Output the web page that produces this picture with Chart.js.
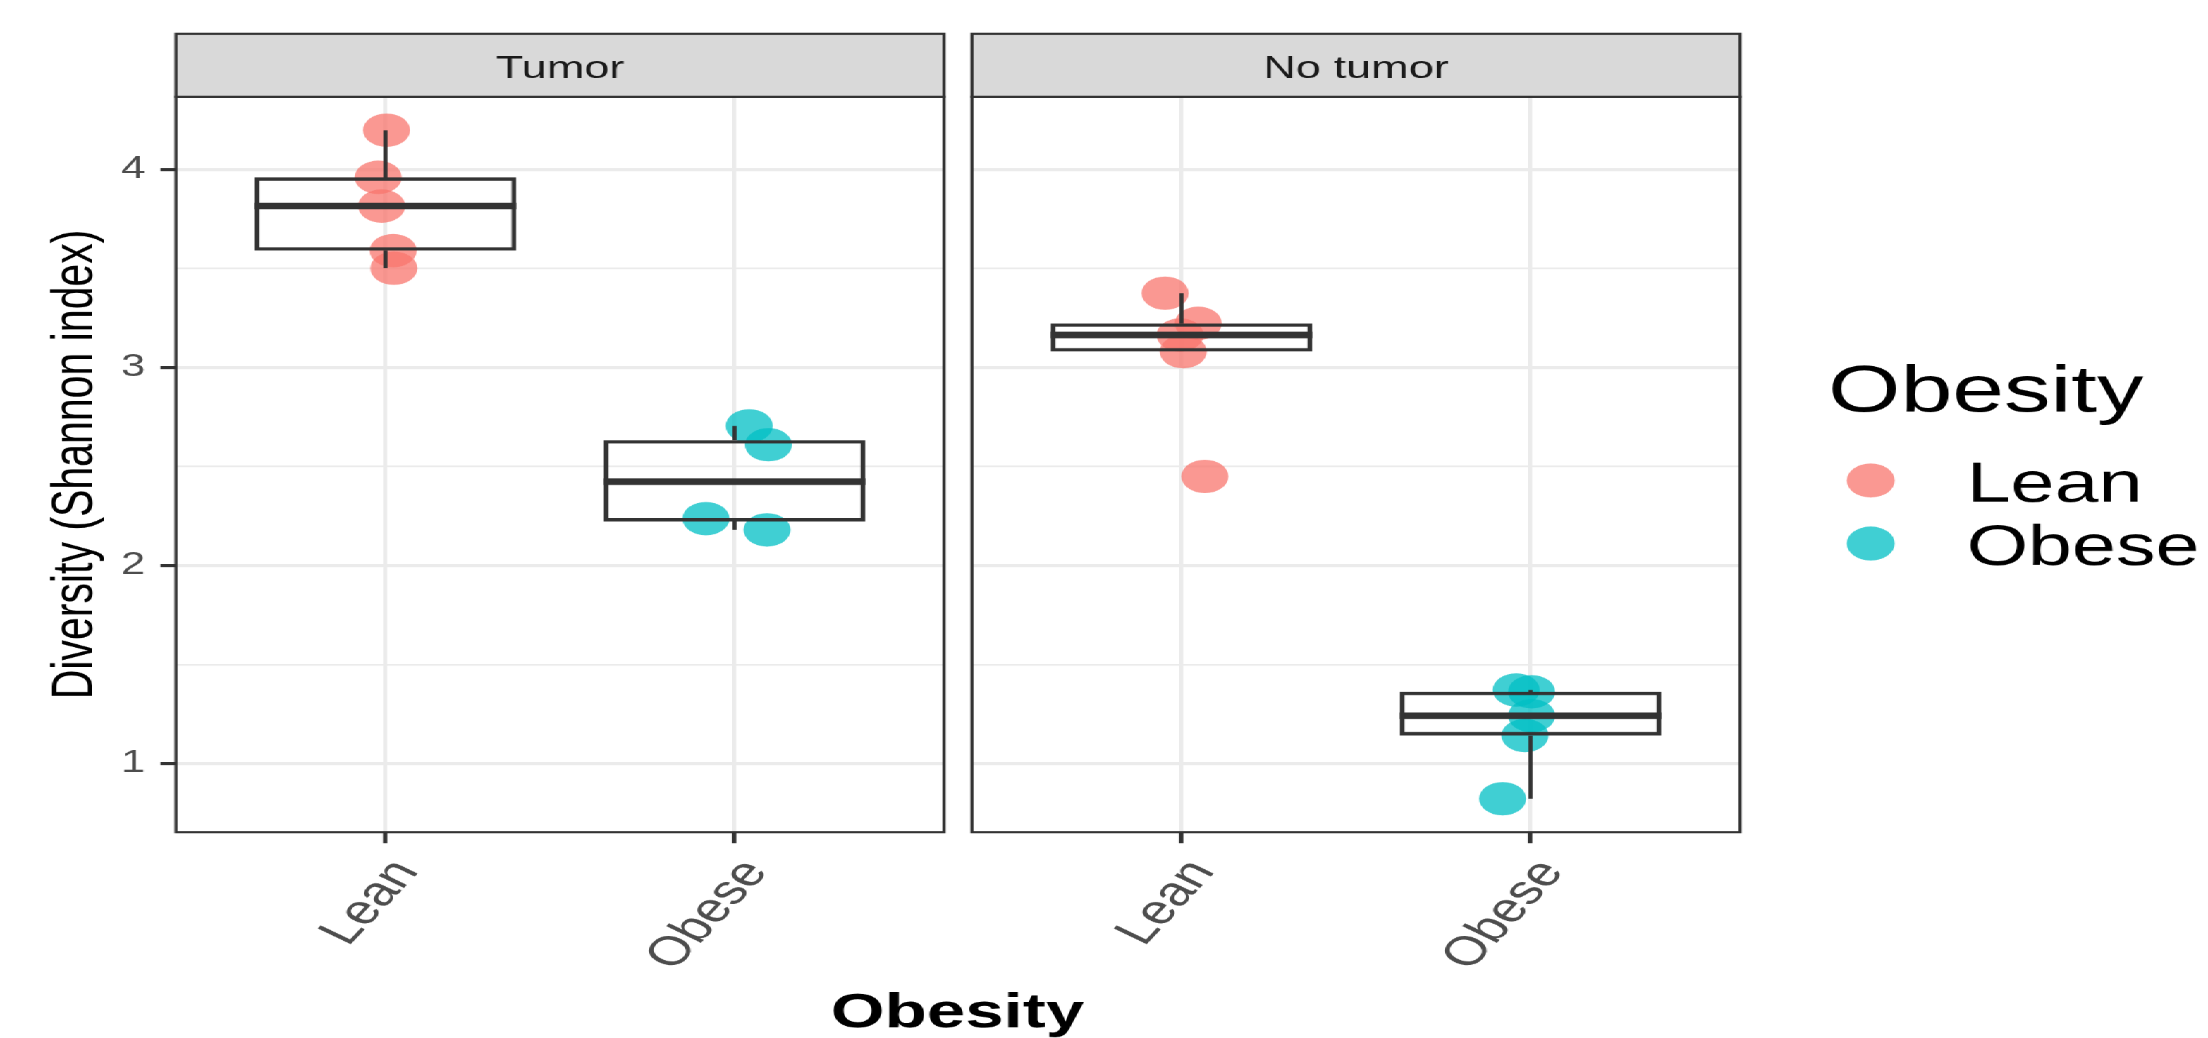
<!DOCTYPE html>
<html><head><meta charset="utf-8">
<script src="https://cdn.jsdelivr.net/npm/chart.js@4.4.1/dist/chart.umd.min.js"></script>
<style>
html,body{margin:0;padding:0;background:#fff;overflow:hidden;width:2208px;height:1038px;}
#stage{position:absolute;left:0;top:0;width:1566px;height:1038px;transform-origin:0 0;}
#stage canvas{position:absolute;left:0;top:0;}
</style></head><body>
<div id="stage"><canvas id="cA" width="1566" height="1038"></canvas><canvas id="cB" width="1566" height="1038"></canvas></div>
<script>
// ---------------- data ----------------
const facets = ['Tumor', 'No tumor'];
const categories = ['Lean', 'Obese'];
const yTickValues = [1, 1.5, 2, 2.5, 3, 3.5, 4];
const yTickLabels = ['1', '', '2', '', '3', '', '4'];
const xTitle = 'Obesity';
const yTitle = 'Diversity (Shannon index)';
const legendTitle = 'Obesity';

const tumorLean = [4.198, 3.960, 3.815, 3.590, 3.501];
const tumorLeanJitter = [0.003, -0.021, -0.011, 0.022, 0.024];
const tumorObese = [2.705, 2.610, 2.237, 2.180];
const tumorObeseJitter = [0.042, 0.097, -0.082, 0.093];
const noTumorLean = [3.375, 3.223, 3.164, 3.080, 2.450];
const noTumorLeanJitter = [-0.047, 0.048, -0.004, 0.005, 0.067];
const noTumorObese = [1.372, 1.363, 1.242, 1.142, 0.823];
const noTumorObeseJitter = [-0.041, 0.003, 0.003, -0.016, -0.080];

// ---------------- styles / layout ----------------
const FONT = "'Liberation Sans', Arial, Helvetica, sans-serif";
const COLORS = ['rgba(248,118,109,0.75)', 'rgba(0,191,196,0.75)'];
const DARK = '#333333';
const GRID = '#EBEBEB';
const BOX_WIDTH = 0.75;
const W0 = 1566, H0 = 1038;
const S = 2208 / W0;            // horizontal stretch of the reference image
document.getElementById('stage').style.transform = 'scaleX(' + S + ')';
Chart.defaults.font.family = FONT;

const PANEL_TOP = 96.7, PANEL_BOTTOM = 831.8, STRIP_TOP = 33.7;

function q7(s, p) { const h = (s.length - 1) * p, lo = Math.floor(h), hi = Math.ceil(h); return s[lo] + (h - lo) * (s[hi] - s[lo]); }
function boxStats(vals) {
  const s = [...vals].sort((a, b) => a - b);
  const q1 = q7(s, 0.25), med = q7(s, 0.5), q3 = q7(s, 0.75), iqr = q3 - q1;
  const lo = s.find(v => v >= q1 - 1.5 * iqr);
  const hi = [...s].reverse().find(v => v <= q3 + 1.5 * iqr);
  return { q1, med, q3, lo, hi };
}
const allVals = [...tumorLean, ...tumorObese, ...noTumorLean, ...noTumorObese];
const dMin = Math.min(...allVals), dMax = Math.max(...allVals), rng = dMax - dMin;
const yMin = dMin - 0.05 * rng, yMax = dMax + 0.05 * rng;

function panelPlugin(label) {
  return {
    id: 'panel',
    afterDraw(chart) {
      const { ctx, chartArea: a } = chart;
      ctx.save();
      ctx.strokeStyle = DARK; ctx.lineWidth = 2.2;
      ctx.strokeRect(a.left, a.top, a.right - a.left, a.bottom - a.top);
      ctx.fillStyle = '#D9D9D9';
      ctx.fillRect(a.left, STRIP_TOP, a.right - a.left, a.top - STRIP_TOP);
      ctx.strokeRect(a.left, STRIP_TOP, a.right - a.left, a.top - STRIP_TOP);
      ctx.fillStyle = '#1A1A1A';
      ctx.font = '32px ' + FONT;
      ctx.textAlign = 'center'; ctx.textBaseline = 'alphabetic';
      ctx.fillText(label, (a.left + a.right) / 2, 78.3);
      ctx.restore();
    }
  };
}

const legendPlugin = {
  id: 'legendAndTitle',
  afterDraw(chart) {
    const ctx = chart.ctx;
    ctx.save();
    ctx.fillStyle = '#000';
    ctx.textAlign = 'left'; ctx.textBaseline = 'alphabetic';
    ctx.font = '66px ' + FONT;
    ctx.fillText(legendTitle, 1828 / S, 411.7);
    ctx.font = '56px ' + FONT;
    const rowY = [480.3, 543.3];
    categories.forEach((c, i) => {
      ctx.fillStyle = COLORS[i];
      ctx.beginPath(); ctx.arc(1870.7 / S, rowY[i], 17, 0, Math.PI * 2); ctx.fill();
      ctx.fillStyle = '#000';
      ctx.fillText(c, 1966.7 / S, rowY[i] + 21.4);
    });
    ctx.font = 'bold 49px ' + FONT;
    ctx.textAlign = 'center';
    ctx.fillText(xTitle, 957.5 / S, 1026.7);
    ctx.restore();
  }
};

function makeChart(canvasId, facetIdx, groups, jitters, leftFull, rightFull, showY, extraPlugins) {
  const stats = groups.map(boxStats);
  const whisker = [], median = [];
  stats.forEach((st, i) => {
    whisker.push({ x: i + 1, y: st.q3 }, { x: i + 1, y: st.hi }, { x: i + 1, y: null },
                 { x: i + 1, y: st.q1 }, { x: i + 1, y: st.lo }, { x: i + 1, y: null });
    median.push({ x: i + 1 - BOX_WIDTH / 2, y: st.med }, { x: i + 1 + BOX_WIDTH / 2, y: st.med }, { x: i + 1, y: null });
  });
  const datasets = [
    { type: 'bar', label: 'box', data: stats.map((st, i) => ({ x: i + 1, y: [st.q1, st.q3] })),
      backgroundColor: 'rgba(0,0,0,0)', borderColor: DARK, borderWidth: 3.4, borderSkipped: false,
      grouped: false, barPercentage: BOX_WIDTH, categoryPercentage: 1, order: 1 },
    { type: 'line', label: 'median', data: median, borderColor: DARK, borderWidth: 6.5, borderCapStyle: 'butt',
      pointRadius: 0, spanGaps: false, tension: 0, fill: false, order: 1 },
    { type: 'line', label: 'whiskers', data: whisker, borderColor: DARK, borderWidth: 3,
      pointRadius: 0, spanGaps: false, tension: 0, fill: false, order: 1 },
  ];
  groups.forEach((vals, i) => {
    datasets.push({ type: 'scatter', label: categories[i],
      data: vals.map((v, j) => ({ x: i + 1 + jitters[i][j], y: v })),
      pointRadius: 16.7, pointHoverRadius: 16.7, backgroundColor: COLORS[i], borderWidth: 0, order: 2 });
  });
  const left = leftFull / S, right = rightFull / S;
  return new Chart(document.getElementById(canvasId), {
    type: 'scatter',
    data: { datasets },
    plugins: [panelPlugin(facets[facetIdx]), ...extraPlugins],
    options: {
      responsive: false, devicePixelRatio: S, animation: false, events: [],
      layout: { padding: { left: showY ? 0 : left, right: W0 - right, top: PANEL_TOP, bottom: 0 } },
      plugins: { legend: { display: false }, tooltip: { enabled: false } },
      scales: {
        x: {
          type: 'linear', min: 0.4, max: 2.6, offset: false,
          afterBuildTicks: s => { s.ticks = categories.map((c, i) => ({ value: i + 1 })); },
          afterFit: s => { s.height = H0 - PANEL_BOTTOM; },
          ticks: { autoSkip: false, minRotation: 56, maxRotation: 56, labelOffset: 15, padding: 8.2,
                   color: '#4D4D4D', font: { size: 41 }, callback: (v, i) => categories[i] },
          grid: { offset: false, color: GRID, lineWidth: 3, drawTicks: true, tickLength: 11, tickColor: DARK, tickWidth: 3.2 },
          border: { display: false }
        },
        y: {
          type: 'linear', min: yMin, max: yMax,
          afterBuildTicks: s => { s.ticks = yTickValues.map(v => ({ value: v })); },
          afterFit: s => { s.width = showY ? left : 0; },
          ticks: { display: showY, color: '#4D4D4D', font: { size: 31 }, padding: 10.8,
                   callback: (v, i) => yTickLabels[i] },
          grid: { offset: false, color: GRID,
                  lineWidth: c => (c.tick && Number.isInteger(c.tick.value)) ? 3 : 1.6,
                  drawTicks: showY, tickLength: 11, tickWidth: 3,
                  tickColor: c => (c.tick && Number.isInteger(c.tick.value)) ? DARK : 'rgba(0,0,0,0)' },
          border: { display: false },
          title: { display: showY, text: yTitle, color: '#000', font: { size: 41 }, padding: { top: 29.6, bottom: 0 } }
        }
      }
    }
  });
}

makeChart('cA', 0, [tumorLean, tumorObese], [tumorLeanJitter, tumorObeseJitter], 176, 944, true, []);
makeChart('cB', 1, [noTumorLean, noTumorObese], [noTumorLeanJitter, noTumorObeseJitter], 972, 1740, false, [legendPlugin]);
</script>
</body></html>
